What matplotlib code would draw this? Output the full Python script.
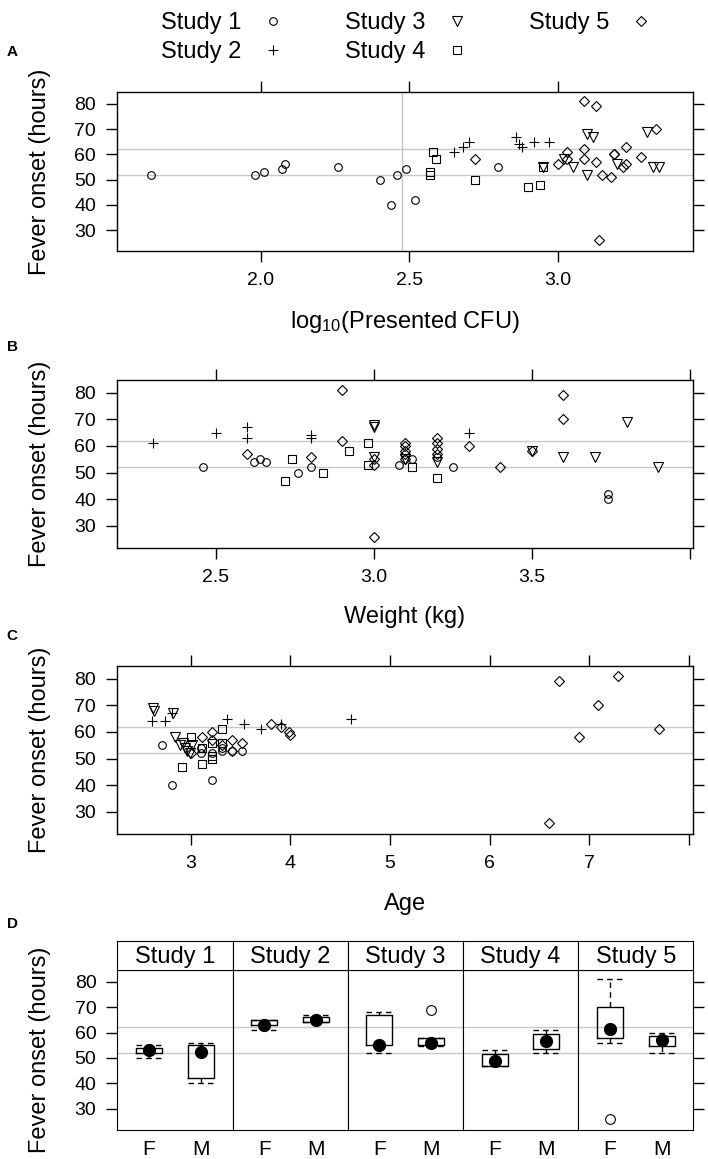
import matplotlib
matplotlib.use('Agg')
import matplotlib.pyplot as plt
from matplotlib.lines import Line2D

plt.rcParams['font.family'] = ['Liberation Sans', 'DejaVu Sans']
plt.rcParams['mathtext.fontset'] = 'custom'
plt.rcParams['mathtext.rm'] = 'Liberation Sans'
plt.rcParams['mathtext.it'] = 'Liberation Sans:italic'

################################################
# DATA
################################################
studies = ['Study 1', 'Study 2', 'Study 3', 'Study 4', 'Study 5']

# Panel A: log10(presented CFU) vs fever onset
cfu_s1 = [1.63, 1.98, 2.01, 2.07, 2.08, 2.26, 2.40, 2.44, 2.46, 2.49, 2.52, 2.80]
onset_cfu_s1 = [52, 52, 53, 54, 56, 55, 50, 40, 52, 54, 42, 55]
cfu_s2 = [2.65, 2.68, 2.70, 2.86, 2.87, 2.88, 2.92, 2.97]
onset_cfu_s2 = [61, 63, 65, 67, 64, 63, 65, 65]
cfu_s3 = [2.95, 3.02, 3.05, 3.10, 3.12, 3.10, 3.20, 3.30, 3.32, 3.34]
onset_cfu_s3 = [55, 58, 55, 68, 67, 52, 56, 69, 55, 55]
cfu_s4 = [2.58, 2.59, 2.57, 2.57, 2.72, 2.90, 2.94, 2.95]
onset_cfu_s4 = [61, 58, 53, 52, 50, 47, 48, 55]
cfu_s5 = [2.72, 3.00, 3.03, 3.03, 3.09, 3.13, 3.09, 3.09, 3.13, 3.15, 3.18,
          3.19, 3.19, 3.23, 3.22, 3.23, 3.28, 3.33, 3.14]
onset_cfu_s5 = [58, 56, 61, 58, 81, 79, 62, 58, 57, 52, 51,
                60, 60, 63, 55, 56, 59, 70, 26]

# Panel B: weight (kg) vs fever onset
weight_s1 = [2.46, 2.62, 2.64, 2.66, 2.76, 2.80, 3.08, 3.12, 3.20, 3.25, 3.74, 3.74]
onset_wt_s1 = [52, 54, 55, 54, 50, 52, 53, 55, 56, 52, 42, 40]
weight_s2 = [2.30, 2.50, 2.60, 2.60, 2.80, 2.80, 3.30]
onset_wt_s2 = [61, 65, 67, 63, 64, 63, 65]
weight_s3 = [3.00, 3.00, 3.00, 3.10, 3.20, 3.50, 3.60, 3.70, 3.80, 3.90]
onset_wt_s3 = [68, 67, 56, 55, 54, 58, 56, 56, 69, 52]
weight_s4 = [2.72, 2.74, 2.84, 2.92, 2.98, 2.98, 3.12, 3.20]
onset_wt_s4 = [47, 55, 50, 58, 61, 53, 52, 48]
weight_s5 = [2.60, 2.80, 2.90, 2.90, 3.00, 3.00, 3.00, 3.10, 3.10, 3.10, 3.10, 3.10,
             3.20, 3.20, 3.20, 3.20, 3.30, 3.40, 3.50, 3.60, 3.60]
onset_wt_s5 = [57, 56, 81, 62, 55, 53, 26, 61, 60, 58, 57, 55,
               63, 61, 59, 57, 60, 52, 58, 79, 70]

# Panel C: age vs fever onset
age_s1 = [2.71, 2.81, 3.21, 3.10, 3.10, 3.21, 3.31, 3.31, 3.41, 3.51]
onset_age_s1 = [55, 40, 42, 54, 52, 52, 54, 53, 53, 53]
age_s2 = [2.61, 2.74, 2.81, 3.36, 3.53, 3.71, 3.91, 4.61]
onset_age_s2 = [64, 64, 67, 65, 63, 61, 63, 65]
age_s3 = [2.62, 2.63, 2.82, 2.84, 2.89, 2.92, 2.94, 2.96, 2.99, 3.01]
onset_age_s3 = [69, 68, 67, 58, 55, 56, 54, 53, 52, 55]
age_s4 = [2.91, 3.00, 3.11, 3.11, 3.21, 3.21, 3.21, 3.31, 3.31]
onset_age_s4 = [47, 58, 48, 54, 50, 51, 56, 61, 56]
age_s5 = [3.00, 3.11, 3.21, 3.21, 3.31, 3.41, 3.41, 3.51, 3.81, 3.91, 3.99, 4.00,
          6.60, 6.70, 6.90, 7.09, 7.29, 7.70]
onset_age_s5 = [52, 58, 60, 57, 55, 57, 53, 56, 63, 62, 60, 59,
                26, 79, 58, 70, 81, 61]

# Panel D: box plot summaries by sex (per study)
sexes = ['F', 'M']
f_whislo = [50, 61, 52, 47, 56]
f_q1 = [52, 63, 55, 47, 58]
f_med = [53, 63, 55, 49, 61.3]
f_q3 = [54, 65, 67, 51.5, 70]
f_whishi = [55, 65, 68, 53, 81]
f_out = [[], [], [], [], [26]]
m_whislo = [40, 64, 54.7, 52, 52]
m_q1 = [42, 64.3, 55, 53.5, 54.7]
m_med = [52.3, 65, 56, 56.5, 57]
m_q3 = [55, 66, 57.8, 59.3, 58.7]
m_whishi = [56, 67, 58, 61, 60]
m_out = [[], [], [69], [], []]

# reference lines
ref_onsets = [52, 62]
ref_log_cfu = 2.477

################################################
# LAYOUT
################################################
W, H = 708, 1159
fig = plt.figure(figsize=(W / 100, H / 100), dpi=100)

def px_axes(x0, y0, x1, y1):
    return fig.add_axes([x0 / W, 1 - y1 / H, (x1 - x0) / W, (y1 - y0) / H])

YLIM = (21.7, 84.7)
YTICKS = [30, 40, 50, 60, 70, 80]
GRAY = '#c8c8c8'
TICK_FS = 14
LABEL_FS = 17
marker_styles = [('o', 5.5), ('+', 7), ('v', 7.5), ('s', 5.5), ('D', 5.5)]

def scatter_panel(ax, xs_list, ys_list):
    for (m, ms), xs, ys in zip(marker_styles, xs_list, ys_list):
        ax.plot(xs, ys, linestyle='none', marker=m, ms=ms, mfc='none',
                mec='black', mew=0.8, zorder=3)
    for r in ref_onsets:
        ax.axhline(r, color=GRAY, lw=1, zorder=1)

def style_scatter(ax, xlim, xticks, xticklabels):
    ax.set_xlim(*xlim)
    ax.set_ylim(*YLIM)
    ax.set_xticks(xticks, xticklabels)
    ax.set_yticks(YTICKS)
    ax.tick_params(direction='out', length=8, width=1, top=True, right=True,
                   labeltop=False, labelright=False, labelsize=TICK_FS, pad=7)
    for s in ax.spines.values():
        s.set_linewidth(1)

# Panel A
axA = px_axes(117, 92, 693, 251)
scatter_panel(axA, [cfu_s1, cfu_s2, cfu_s3, cfu_s4, cfu_s5],
              [onset_cfu_s1, onset_cfu_s2, onset_cfu_s3, onset_cfu_s4, onset_cfu_s5])
axA.axvline(ref_log_cfu, color=GRAY, lw=1, zorder=1)
style_scatter(axA, (1.515, 3.456), [2.0, 2.5, 3.0], ['2.0', '2.5', '3.0'])

# Panel B
axB = px_axes(117, 380, 693, 548)
scatter_panel(axB, [weight_s1, weight_s2, weight_s3, weight_s4, weight_s5],
              [onset_wt_s1, onset_wt_s2, onset_wt_s3, onset_wt_s4, onset_wt_s5])
style_scatter(axB, (2.187, 4.01), [2.5, 3.0, 3.5, 4.0], ['2.5', '3.0', '3.5', ''])

# Panel C
axC = px_axes(117, 666, 693, 834)
scatter_panel(axC, [age_s1, age_s2, age_s3, age_s4, age_s5],
              [onset_age_s1, onset_age_s2, onset_age_s3, onset_age_s4, onset_age_s5])
style_scatter(axC, (2.26, 8.04), [3, 4, 5, 6, 7, 8], ['3', '4', '5', '6', '7', ''])

# Panel D: one box-plot panel per study with a strip on top
panel_w = (693.3 - 117.3) / 5
for i, study in enumerate(studies):
    x0 = 117.3 + i * panel_w
    ax = px_axes(x0, 969.7, x0 + panel_w, 1130)
    strip = px_axes(x0, 940.7, x0 + panel_w, 969.7)
    strip.set_xticks([])
    strip.set_yticks([])
    strip.text(0.5, 0.45, study, ha='center', va='center', fontsize=17,
               transform=strip.transAxes)
    stats = [
        dict(whislo=f_whislo[i], q1=f_q1[i], med=f_med[i], q3=f_q3[i],
             whishi=f_whishi[i], mean=f_med[i], fliers=f_out[i], label='F'),
        dict(whislo=m_whislo[i], q1=m_q1[i], med=m_med[i], q3=m_q3[i],
             whishi=m_whishi[i], mean=m_med[i], fliers=m_out[i], label='M'),
    ]
    for r in ref_onsets:
        ax.axhline(r, color=GRAY, lw=1, zorder=1)
    ax.bxp(stats, positions=[1, 2], widths=0.5, capwidths=0.5, showmeans=True,
           boxprops=dict(color='black', lw=1),
           whiskerprops=dict(color='black', lw=1, linestyle=(0, (4, 3))),
           capprops=dict(color='black', lw=1, linestyle=(0, (4, 3))),
           medianprops=dict(lw=0),
           meanprops=dict(marker='o', mfc='black', mec='black', ms=8.5),
           flierprops=dict(marker='o', mfc='none', mec='black', ms=7, mew=0.8))
    ax.set_xlim(0.39, 2.61)
    ax.set_ylim(*YLIM)
    ax.set_xticks([1, 2], sexes)
    ax.tick_params(axis='x', length=0, labelsize=15, pad=7)
    if i == 0:
        ax.set_yticks(YTICKS)
        ax.tick_params(axis='y', direction='out', length=8, width=1,
                       labelsize=TICK_FS, pad=7)
    elif i == 4:
        ax.set_yticks(YTICKS)
        ax.tick_params(axis='y', direction='out', length=8, width=1,
                       left=False, labelleft=False, right=True)
    else:
        ax.set_yticks([])

# y labels, x labels and panel letters
for (top, bottom) in [(92, 251), (380, 548), (666, 834), (969.7, 1130)]:
    fig.text(40 / W, 1 - (top + bottom) / 2 / H, 'Fever onset (hours)',
             rotation=90, ha='center', va='center', fontsize=LABEL_FS)

fig.text(405 / W, 1 - 322 / H, r'$\mathregular{log_{10}}$(Presented CFU)',
         ha='center', va='center', fontsize=LABEL_FS)
fig.text(405 / W, 1 - 617 / H, 'Weight (kg)', ha='center', va='center',
         fontsize=LABEL_FS)
fig.text(405 / W, 1 - 904 / H, 'Age', ha='center', va='center', fontsize=LABEL_FS)

for letter, y in [('A', 52), ('B', 347), ('C', 636), ('D', 924)]:
    fig.text(12 / W, 1 - y / H, letter, ha='center', va='center',
             fontsize=11, fontweight='bold')

# legend across the top
handles = [Line2D([], [], linestyle='none', marker=m, ms=ms, mfc='none',
                  mec='black', mew=0.8) for m, ms in marker_styles]
fig.legend(handles, studies, ncol=3, loc='upper center',
           bbox_to_anchor=(408 / W, 1.0), frameon=False, fontsize=17,
           markerfirst=False, handlelength=1.2, handletextpad=0.75,
           columnspacing=2.45, labelspacing=0.3, borderaxespad=0.1)

fig.savefig('out.png', dpi=100)
